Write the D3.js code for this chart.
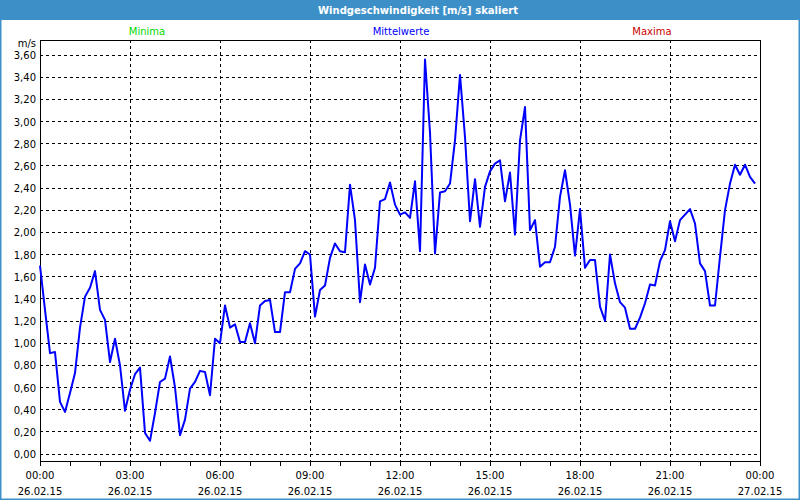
<!DOCTYPE html>
<html>
<head>
<meta charset="utf-8">
<script src="https://cdn.jsdelivr.net/npm/d3@7"></script>
<style>
  body { margin: 0; background: #fff; }
  text { font-family: "DejaVu Sans", Verdana, sans-serif; font-size: 10px; }
</style>
</head>
<body>
<div id="chart"></div>
<script>
// wind speed, 10-minute means, 26.02.15 00:00 .. 23:50
const title = "Windgeschwindigkeit [m/s] skaliert";
const legendNames = ["Minima", "Mittelwerte", "Maxima"];
const legendColors = ["#00d800", "#0000ff", "#c80000"];
const startTime = new Date(2015, 1, 26, 0, 0);
const endTime = new Date(2015, 1, 27, 0, 0);
const stepMinutes = 10;
const yTicks = [0, 0.2, 0.4, 0.6, 0.8, 1.0, 1.2, 1.4, 1.6, 1.8, 2.0, 2.2, 2.4, 2.6, 2.8, 3.0, 3.2, 3.4, 3.6];
const mittelwerte = [
  1.70, 1.30, 0.91, 0.92, 0.47, 0.38, 0.55, 0.73, 1.14, 1.42, 1.50, 1.65,
  1.30, 1.21, 0.83, 1.04, 0.80, 0.39, 0.58, 0.72, 0.78, 0.19, 0.12, 0.37,
  0.65, 0.68, 0.88, 0.60, 0.17, 0.31, 0.59, 0.65, 0.75, 0.74, 0.53, 1.04,
  1.00, 1.34, 1.14, 1.17, 1.01, 1.01, 1.18, 1.00, 1.34, 1.38, 1.39, 1.10,
  1.10, 1.46, 1.46, 1.67, 1.72, 1.83, 1.80, 1.24, 1.48, 1.52, 1.77, 1.90,
  1.83, 1.82, 2.43, 2.11, 1.37, 1.71, 1.53, 1.68, 2.28, 2.30, 2.45, 2.25,
  2.16, 2.18, 2.13, 2.46, 1.83, 3.56, 2.90, 1.81, 2.36, 2.37, 2.44, 2.83,
  3.42, 2.86, 2.10, 2.48, 2.05, 2.41, 2.55, 2.62, 2.65, 2.28, 2.54, 1.98,
  2.83, 3.13, 2.02, 2.11, 1.69, 1.73, 1.73, 1.87, 2.32, 2.56, 2.25, 1.79,
  2.21, 1.68, 1.75, 1.75, 1.33, 1.20, 1.80, 1.54, 1.37, 1.32, 1.13, 1.13,
  1.23, 1.36, 1.53, 1.52, 1.74, 1.84, 2.10, 1.92, 2.11, 2.16, 2.21, 2.08,
  1.72, 1.65, 1.34, 1.34, 1.78, 2.20, 2.44, 2.61, 2.52, 2.61, 2.50, 2.44
];

const W = 800, H = 500;
const plotLeft = 40, plotRight = 760, plotTop = 40, plotBottom = 461;

const svg = d3.select("#chart").append("svg")
    .attr("width", W)
    .attr("height", H);

// window frame + title bar
svg.append("rect").attr("x", 0.5).attr("y", 0.5).attr("width", W - 1).attr("height", H - 1)
    .attr("fill", "#fff").attr("stroke", "#3d8fc8").attr("stroke-width", 2);
svg.append("rect").attr("x", 0).attr("y", 0).attr("width", W).attr("height", 20)
    .attr("fill", "#3d8fc8");
svg.append("text").attr("x", 418).attr("y", 14)
    .attr("text-anchor", "middle").attr("fill", "#fff")
    .style("font-weight", "bold").style("font-size", "11px")
    .attr("textLength", 200).attr("lengthAdjust", "spacingAndGlyphs")
    .text(title);

// legend
const legendX = [147, 401, 652];
svg.selectAll(".legend").data(legendNames).enter().append("text")
    .attr("x", (d, i) => legendX[i]).attr("y", 35)
    .attr("text-anchor", "middle")
    .attr("fill", (d, i) => legendColors[i])
    .text(d => d);

const x = d3.scaleTime().domain([startTime, endTime]).range([plotLeft, plotRight]);
const y = d3.scaleLinear().domain([0, 3.6]).range([454, 55]);

// grid
const g = svg.append("g").attr("shape-rendering", "crispEdges");
g.selectAll(".hgrid").data(yTicks).enter().append("line")
    .attr("x1", plotLeft).attr("x2", plotRight)
    .attr("y1", d => y(d)).attr("y2", d => y(d))
    .attr("stroke", "#000").attr("stroke-dasharray", "3,3");
const threeHours = x.ticks(d3.timeHour.every(3));
g.selectAll(".vgrid").data(threeHours.slice(1, -1)).enter().append("line")
    .attr("x1", d => x(d)).attr("x2", d => x(d))
    .attr("y1", plotTop).attr("y2", plotBottom)
    .attr("stroke", "#000").attr("stroke-dasharray", "3,3");

// y labels
svg.selectAll(".ylab").data(yTicks).enter().append("text")
    .attr("x", 36).attr("y", d => y(d) + 4)
    .attr("text-anchor", "end")
    .text(d => d3.format(".2f")(d).replace(".", ","));
svg.append("text").attr("x", 36).attr("y", 47).attr("text-anchor", "end").text("m/s");

// x axis
const xAxis = d3.axisBottom(x).ticks(d3.timeHour.every(1)).tickSize(5).tickFormat("");
const ax = svg.append("g").attr("transform", `translate(0,${plotBottom})`)
    .attr("shape-rendering", "crispEdges").call(xAxis);
ax.select(".domain").remove();
ax.selectAll("line").attr("stroke", "#000");

svg.selectAll(".xtime").data(threeHours).enter().append("text")
    .attr("x", d => x(d)).attr("y", 479).attr("text-anchor", "middle")
    .text(d => d3.timeFormat("%H:%M")(d));
svg.selectAll(".xdate").data(threeHours).enter().append("text")
    .attr("x", d => x(d)).attr("y", 495).attr("text-anchor", "middle")
    .text(d => d3.timeFormat("%d.%m.%y")(d));

// plot frame
svg.append("rect").attr("x", plotLeft).attr("y", plotTop)
    .attr("width", plotRight - plotLeft).attr("height", plotBottom - plotTop)
    .attr("fill", "none").attr("stroke", "#000").attr("shape-rendering", "crispEdges");

// data line
const line = d3.line()
    .x((d, i) => x(d3.timeMinute.offset(startTime, i * stepMinutes)))
    .y(d => y(d));
svg.append("path").datum(mittelwerte)
    .attr("d", line)
    .attr("fill", "none")
    .attr("stroke", legendColors[1])
    .attr("stroke-width", 2)
    .attr("stroke-linejoin", "round");
</script>
</body>
</html>
